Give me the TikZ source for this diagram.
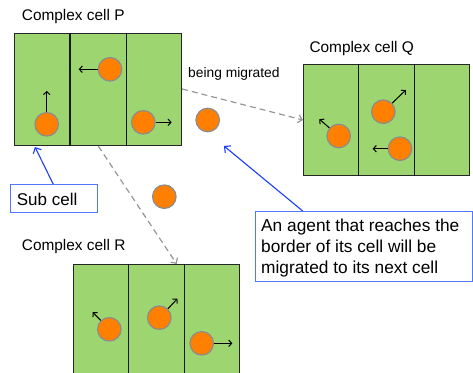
\documentclass[tikz,border=0pt]{standalone}
\usepackage{fontspec}
\setmainfont{Liberation Sans}
\usetikzlibrary{arrows.meta,calc}
\definecolor{cellgreen}{RGB}{157,213,112}
\definecolor{agentorange}{RGB}{255,127,0}
\definecolor{agentrim}{RGB}{140,140,140}
\definecolor{blueline}{RGB}{25,60,255}
\definecolor{blueframe}{RGB}{80,120,255}
\definecolor{dashgray}{RGB}{150,150,150}
\begin{document}
\begin{tikzpicture}[x=1pt,y=-1pt,
  cellbox/.style={draw=black!85, line width=1.1pt, fill=cellgreen, inner sep=0pt, anchor=north west, minimum width=166pt, minimum height=112pt},
  divider/.style={draw=black!90, line width=1.1pt},
  agent/.style={circle, fill=agentorange, draw=agentrim, line width=1.2pt, minimum size=23.5pt, inner sep=0pt},
  move/.style={draw=black, line width=1pt, -{Straight Barb[length=3pt,width=6.5pt]}},
  migr/.style={draw=dashgray, line width=1.2pt, dash pattern=on 6pt off 4pt, -{Straight Barb[length=4pt,width=8pt]}},
  pointer/.style={draw=blueline, line width=1.1pt, -{Straight Barb[length=4.5pt,width=9pt]}},
  title/.style={font=\fontsize{15.4}{18}\selectfont, anchor=base west, inner sep=0pt},
  note/.style={font=\fontsize{17.3}{21}\selectfont, anchor=base west, inner sep=0pt},
  frame/.style={draw=blueframe, line width=1.1pt, fill=white, inner sep=0pt, anchor=north west}
]
\useasboundingbox (0,0) rectangle (473,372);
\clip (0,0) rectangle (473,372);

% complex cells
\node[cellbox, minimum width=167pt] (P) at (14,33) {};
\node[cellbox, minimum height=111pt] (Q) at (303,64) {};
\node[cellbox] (R) at (73,264) {};
\foreach \c in {P,Q,R}{
  \draw[divider] ($(\c.north west)!1/3!(\c.north east)$) -- ($(\c.south west)!1/3!(\c.south east)$);
  \draw[divider] ($(\c.north west)!2/3!(\c.north east)$) -- ($(\c.south west)!2/3!(\c.south east)$);
}

% titles
\node[title] (tP) at (21.7,20.7) {Complex cell P};
\node[title] (tQ) at (309.3,52.3) {Complex cell Q};
\node[title] (tR) at (21.7,250.7) {Complex cell R};
\node[font=\fontsize{13.8}{16}\selectfont, anchor=base west, inner sep=0pt] (bm) at (188,77) {being migrated};

% migration connectors
\draw[migr] (P.east |- 0,89) -- (Q.west |- 0,120);
\draw[migr] (P.south -| 98.3,0) -- (R.north -| 176.7,0);

% agents in P
\node[agent] (p1) at (46.7,124.3) {};
\node[agent] (p2) at (110,69.3) {};
\node[agent] (p3) at (143.3,122.3) {};
\draw[move] (p1.north) -- ++(0,-21);
\draw[move] (p2.west) -- ++(-19,0);
\draw[move] (p3.east) -- ++(16,0);

% agents in Q
\node[agent] (qa) at (338.7,136) {};
\node[agent] (qb) at (383.3,111.7) {};
\node[agent] (qc) at (400,148.7) {};
\draw[move] (qa.139) -- ++(-10,-8.7);
\draw[move] (qb.44) -- ++(13.6,-13.1);
\draw[move] (qc.west) -- ++(-15,0);

% agents in R
\node[agent] (ra) at (109.3,329.3) {};
\node[agent] (rb) at (159.3,317.7) {};
\node[agent] (rc) at (201.7,343.3) {};
\draw[move] (ra.134) -- ++(-8,-8.2);
\draw[move] (rb.46) -- ++(9.5,-10.1);
\draw[move] (rc.east) -- ++(18.3,0);

% agents being migrated
\node[agent] (m1) at (207.7,120) {};
\node[agent] (m2) at (164.3,196.7) {};

% callouts
\node[frame, minimum width=86.7pt, minimum height=27.7pt] (sb) at (10,184.3) {};
\node[note, font=\fontsize{17}{20}\selectfont] (sbt) at (16.7,205) {Sub cell};
\coordinate (subtip) at (35,147);
\draw[pointer] (sb.north -| 53.3,0) -- (subtip);

\node[frame, minimum width=217pt, minimum height=70pt] (cb) at (255,211) {};
\node[note] (cl1) at (261,231.7) {An agent that reaches the};
\node[note] (cl2) at (261,252.7) {border of its cell will be};
\node[note] (cl3) at (261,273.7) {migrated to its next cell};
\coordinate (calltip) at (224,146);
\draw[pointer] (cb.north -| 302.7,0) -- (calltip);
\end{tikzpicture}
\end{document}
